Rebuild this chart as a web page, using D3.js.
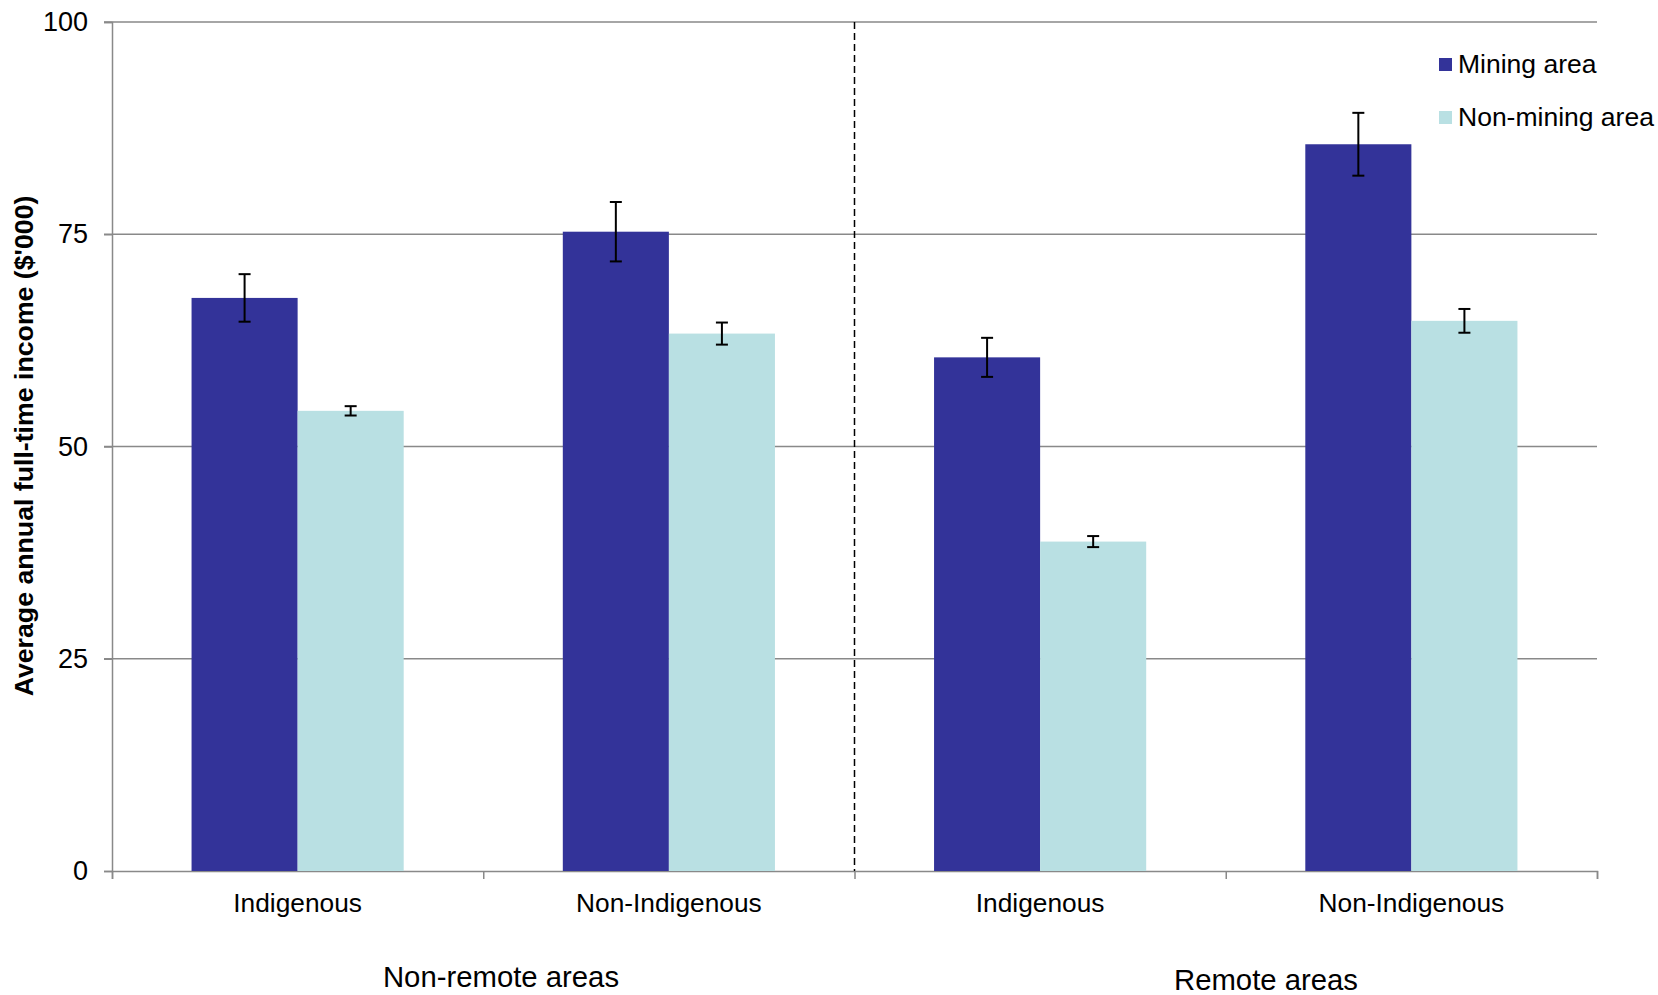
<!DOCTYPE html>
<html><head><meta charset="utf-8">
<script src="https://cdn.jsdelivr.net/npm/d3@7"></script>
<style>body{margin:0;background:#fff;} svg{display:block;} text{font-family:"Liberation Sans",Arial,sans-serif;}</style>
</head><body><svg id="c" width="1658" height="995"></svg>
<script>
const categories = ["Indigenous","Non-Indigenous","Indigenous","Non-Indigenous"];
const seriesNames = ["Mining area","Non-mining area"];
const miningValues = [67.5, 75.3, 60.5, 85.6];
const miningErrors = [2.8, 3.5, 2.3, 3.7];
const nonMiningValues = [54.2, 63.3, 38.8, 64.8];
const nonMiningErrors = [0.55, 1.3, 0.65, 1.4];
const yTicks = [0, 25, 50, 75, 100];
const groupLabels = ["Non-remote areas","Remote areas"];
const yTitle = "Average annual full-time income ($'000)";
const colors = ["#333399","#B9E0E3"];

const svg = d3.select("#c");
const mLeft = 112, mRight = 1597, mTop = 22, mBottom = 871;
const x = d3.scaleBand().domain(d3.range(categories.length)).range([mLeft, mRight]).padding(0);
const y = d3.scaleLinear().domain([0, 100]).range([mBottom, mTop]);
const inner = d3.scaleBand().domain([0,1]).range([0, x.bandwidth()*2/3.5]).padding(0);
const barOffset = x.bandwidth()*0.75/3.5;

// gridlines
svg.append("g").selectAll("line").data(yTicks.filter(d=>d>0)).join("line")
  .attr("x1", mLeft-8).attr("x2", mRight).attr("y1", d=>y(d)).attr("y2", d=>y(d))
  .attr("stroke", "#898989").attr("stroke-width", 1.5);

// y axis
const yAxis = svg.append("g").attr("transform", `translate(${mLeft},0)`)
  .call(d3.axisLeft(y).tickValues(yTicks).tickSize(8).tickPadding(16));
yAxis.select(".domain").attr("stroke", "#898989").attr("stroke-width", 1.5);
yAxis.selectAll(".tick line").attr("stroke", "#898989").attr("stroke-width", 1.5);
yAxis.selectAll(".tick text").attr("font-size", 27).attr("fill", "#000")
  .style("font-family", "'Liberation Sans', Arial, sans-serif");

// x axis
const xAxis = svg.append("g").attr("transform", `translate(0,${mBottom})`)
  .call(d3.axisBottom(d3.scaleLinear().domain([0,4]).range([mLeft,mRight])).tickValues([0,1,2,3,4]).tickSize(8).tickFormat(""));
xAxis.select(".domain").attr("stroke", "#898989").attr("stroke-width", 1.5);
xAxis.selectAll(".tick line").attr("stroke", "#898989").attr("stroke-width", 1.5);

// bars
const series = [
  {vals: miningValues, errs: miningErrors},
  {vals: nonMiningValues, errs: nonMiningErrors}
];
series.forEach((s, si) => {
  const g = svg.append("g");
  g.selectAll("rect").data(s.vals).join("rect")
    .attr("x", (d,i)=>x(i)+barOffset+inner(si))
    .attr("width", inner.bandwidth())
    .attr("y", d=>y(d)).attr("height", d=>y(0)-y(d))
    .attr("fill", colors[si]);
});
// error bars
series.forEach((s, si) => {
  const g = svg.append("g");
  s.vals.forEach((v,i) => {
    const cx = x(i)+barOffset+inner(si)+inner.bandwidth()/2;
    const e = s.errs[i];
    g.append("line").attr("x1",cx).attr("x2",cx).attr("y1",y(v+e)).attr("y2",y(v-e)).attr("stroke","#000").attr("stroke-width",2);
    [v+e, v-e].forEach(t => g.append("line").attr("x1",cx-6).attr("x2",cx+6).attr("y1",y(t)).attr("y2",y(t)).attr("stroke","#000").attr("stroke-width",2));
  });
});

// dashed separator
svg.append("line").attr("x1", x(2)).attr("x2", x(2)).attr("y1", mTop).attr("y2", mBottom)
  .attr("stroke", "#000").attr("stroke-width", 1.5).attr("stroke-dasharray", "7,4");

// category labels
svg.append("g").selectAll("text").data(categories).join("text")
  .attr("x", (d,i)=>x(i)+x.bandwidth()/2).attr("y", 912)
  .attr("text-anchor","middle").attr("font-size",26.3).text(d=>d);

// group labels
svg.append("text").attr("x", 501).attr("y", 987).attr("text-anchor","middle").attr("font-size",29.3).text(groupLabels[0]);
svg.append("text").attr("x", 1266).attr("y", 990).attr("text-anchor","middle").attr("font-size",29.3).text(groupLabels[1]);

// y title
svg.append("text").attr("transform", "translate(33,446) rotate(-90)")
  .attr("text-anchor","middle").attr("font-size",26.7).attr("font-weight","bold").text(yTitle);

// legend
const leg = svg.append("g");
seriesNames.forEach((n,i) => {
  const yy = 64 + i*53;
  leg.append("rect").attr("x",1439).attr("y",yy-6).attr("width",13).attr("height",13).attr("fill",colors[i]);
  leg.append("text").attr("x",1458).attr("y",yy+9).attr("font-size",26.5).text(n);
});
</script></body></html>
